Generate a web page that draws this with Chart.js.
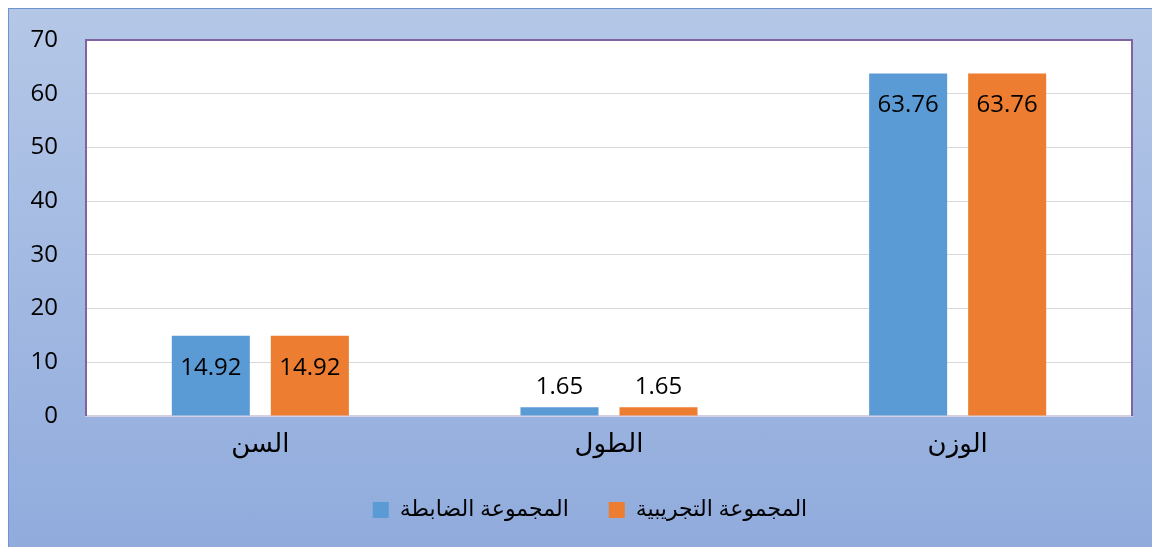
<!DOCTYPE html>
<html>
<head>
<meta charset="utf-8">
<script src="https://cdn.jsdelivr.net/npm/chart.js@4/dist/chart.umd.min.js"></script>
<style>
  html, body { margin:0; padding:0; background:#fff; }
  #frame {
    position:absolute; left:8px; top:8px; width:1160px; height:560px;
    border:1px solid #6f93cf;
    background:linear-gradient(to bottom, #b4c7e7, #8faadc);
  }
  #wrap { position:absolute; left:0; top:0; width:1152px; height:547px; }
</style>
</head>
<body>
<div id="frame"></div>
<div id="wrap"><canvas id="chart" width="1152" height="547"></canvas></div>
<script>
// ── DATA ──
const categories = ['السن', 'الطول', 'الوزن'];
const controlGroup = [14.92, 1.65, 63.76];
const experimentalGroup = [14.92, 1.65, 63.76];
const seriesNames = ['المجموعة الضابطة', 'المجموعة التجريبية'];
const yTicks = [0, 10, 20, 30, 40, 50, 60, 70];

const FONT = "'Open Sans', 'DejaVu Sans', sans-serif";

// plot frame: purple on left/top/right
const frame = {
  id: 'frame',
  afterDatasetsDraw(chart) {
    const { ctx, chartArea: a } = chart;
    ctx.save();
    ctx.strokeStyle = '#8064a2';
    ctx.lineWidth = 2;
    ctx.beginPath();
    ctx.moveTo(a.left, a.bottom);
    ctx.lineTo(a.left, a.top);
    ctx.lineTo(a.right, a.top);
    ctx.lineTo(a.right, a.bottom);
    ctx.stroke();
    ctx.restore();
  }
};

// white plot background
const plotBg = {
  id: 'plotBg',
  beforeDraw(chart) {
    const { ctx, chartArea: a } = chart;
    ctx.save();
    ctx.fillStyle = '#ffffff';
    ctx.fillRect(a.left, a.top, a.right - a.left, a.bottom - a.top);
    ctx.restore();
  }
};

// legend sits a bit right of the page centre
const legendShift = {
  id: 'legendShift',
  afterLayout(chart) {
    chart.legend.left += 48;
  }
};

// value labels: inside near top, or above for short bars
const valueLabels = {
  id: 'valueLabels',
  afterDatasetsDraw(chart) {
    const { ctx } = chart;
    ctx.save();
    ctx.font = '24px ' + FONT;
    ctx.fillStyle = '#000';
    ctx.textAlign = 'center';
    ctx.textBaseline = 'middle';
    chart.data.datasets.forEach((ds, i) => {
      chart.getDatasetMeta(i).data.forEach((bar, j) => {
        const h = bar.base - bar.y;
        const y = h > 50 ? bar.y + 32 : bar.y - 20;
        ctx.fillText(ds.data[j].toFixed(2), bar.x, y);
      });
    });
    ctx.restore();
  }
};

new Chart(document.getElementById('chart'), {
  type: 'bar',
  data: {
    labels: categories,
    datasets: [
      { label: seriesNames[0], data: controlGroup, backgroundColor: '#5b9bd5' },
      { label: seriesNames[1], data: experimentalGroup, backgroundColor: '#ed7d31' },
    ]
  },
  options: {
    responsive: false,
    animation: false,
    categoryPercentage: 0.568,
    barPercentage: 0.788,
    layout: { padding: { left: 0, right: 20, top: 40, bottom: 16 } },
    scales: {
      x: {
        grid: { display: false, drawTicks: false },
        border: { color: '#d6cfe0', width: 2 },
        ticks: { color: '#000', font: { size: 26, family: FONT, lineHeight: 1 }, padding: 16 },
        afterFit(s) { s.height = 43; }
      },
      y: {
        min: 0, max: 70,
        afterBuildTicks(s) { s.ticks = yTicks.map(v => ({ value: v })); },
        grid: { color: '#d9d9d9', drawTicks: false },
        border: { display: false },
        ticks: { color: '#000', font: { size: 24, family: FONT }, padding: 28 },
        afterFit(s) { s.width = 86; s.paddingTop = 0; s.paddingBottom = 0; }
      }
    },
    plugins: {
      legend: {
        position: 'bottom',
        labels: { color: '#000', font: { size: 22, family: FONT }, boxWidth: 16, boxHeight: 16, padding: 40 }
      },
      tooltip: { enabled: false }
    }
  },
  plugins: [plotBg, frame, valueLabels, legendShift]
});
</script>
</body>
</html>
